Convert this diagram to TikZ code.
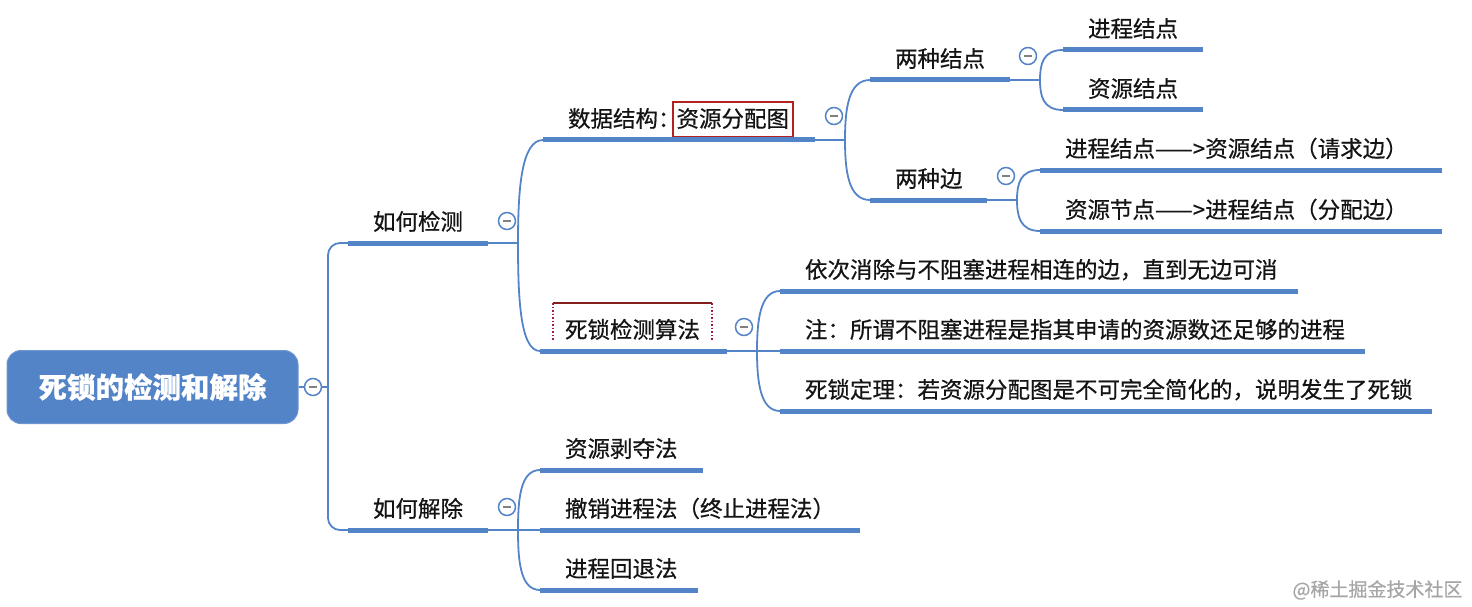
\documentclass[tikz,border=0pt]{standalone}
\usepackage{fontspec}
\setmainfont{Noto Sans CJK SC}[FakeBold=0.6]
\usetikzlibrary{positioning,calc}
\definecolor{mapblue}{RGB}{84,132,200}
\definecolor{boxred}{RGB}{178,34,34}
\definecolor{seldark}{RGB}{130,30,30}
\definecolor{selred}{RGB}{160,30,70}
\tikzset{topic/.style={anchor=south west, inner xsep=25pt, inner ysep=8pt, outer sep=0pt,
		text height=17pt, text depth=5pt, text width=#1, align=left,
		font=\fontsize{22.5}{27}\selectfont, text=black!92,
		append after command={\pgfextra{\let\topicnode\tikzlastnode}
			(\topicnode.south west) edge[draw=mapblue, line width=5pt] (\topicnode.south east)}}}
\tikzset{link/.style={draw=mapblue, line width=1.8pt}}
\tikzset{fold/.style={circle, draw=mapblue, line width=1.5pt, fill=white, minimum size=17pt, inner sep=0pt,
		path picture={\draw[gray, line width=1.8pt] ([xshift=-4pt]path picture bounding box.center) -- ([xshift=4pt]path picture bounding box.center);}}}
\tikzset{rootbox/.style={rounded corners=14pt, fill=mapblue, draw=mapblue!85!white, line width=1pt,
		minimum width=291pt, minimum height=73pt, text=white, font=\fontsize{28.5}{34}\selectfont\bfseries}}
\setlength{\fboxrule}{2pt}
\setlength{\fboxsep}{3pt}

\begin{document}
\begin{tikzpicture}[x=1pt, y=-1pt]
	\useasboundingbox (0,0) rectangle (1472,607);
	\node[rootbox] (root) at (152.5,387) {死锁的检测和解除};
	\coordinate (rootj) at (328,387);
	
	\node[topic=90] (det) at (348,243) {如何检测};
	\node[topic=90] (rel) at (348,530) {如何解除};
	
	\node[topic=222] (ds) at (543,140) {\mbox{数据结构：\kern-9pt\fcolorbox{boxred}{white}{\rule[-6pt]{0pt}{27pt}资源分配图}}};
	\node[topic=137] (alg) at (540,351) {死锁检测算法};
	
	\node[topic=90] (nodes2) at (870,80) {两种结点};
	\node[topic=67] (edges2) at (870,200) {两种边};
	\node[topic=90] (pn) at (1063,50) {进程结点};
	\node[topic=90] (rn) at (1063,110) {资源结点};
	\node[topic=352] (req) at (1040,170) {进程结点——>资源结点（请求边）};
	\node[topic=352] (asg) at (1040,231) {资源节点——>进程结点（分配边）};
	
	\node[topic=468] (a1) at (780,291) {依次消除与不阻塞进程相连的边，直到无边可消};
	\node[topic=535] (a2) at (780,351) {注：所谓不阻塞进程是指其申请的资源数还足够的进程};
	\node[topic=602] (a3) at (780,411) {死锁定理：若资源分配图是不可完全简化的，说明发生了死锁};
	
	\node[topic=113] (r1) at (540,470) {资源剥夺法};
	\node[topic=270] (r2) at (540,530) {撤销进程法（终止进程法）};
	\node[topic=108] (r3) at (540,590) {进程回退法};
	
	\coordinate (detj) at ([xshift=30pt]det.south east);
	\coordinate (relj) at ([xshift=30pt]rel.south east);
	\coordinate (dsj) at ([xshift=30pt]ds.south east);
	\coordinate (algj) at ([xshift=30pt]alg.south east);
	\coordinate (nodes2j) at ([xshift=30pt]nodes2.south east);
	\coordinate (edges2j) at ([xshift=30pt]edges2.south east);
	
	% root
	\draw[link] (root.east) -- (rootj);
	\draw[link, rounded corners=12pt] (det.south west) -| (rootj) |- (rel.south west);
	
	% how to detect
	\draw[link] (det.south east) -- (detj);
	\draw[link] (detj) .. controls +(0,-52) and +(-22,0) .. (ds.south west);
	\draw[link] (detj) .. controls +(0,54) and +(-20,0) .. (alg.south west);
	
	\draw[link] (ds.south east) -- (dsj);
	\draw[link] (dsj) .. controls +(0,-30) and +(-22,0) .. (nodes2.south west);
	\draw[link] (dsj) .. controls +(0,30) and +(-22,0) .. (edges2.south west);
	
	\draw[link] (nodes2.south east) -- (nodes2j);
	\draw[link] (nodes2j) .. controls +(0,-16) and +(-20,0) .. (pn.south west);
	\draw[link] (nodes2j) .. controls +(0,16) and +(-20,0) .. (rn.south west);
	
	\draw[link] (edges2.south east) -- (edges2j);
	\draw[link] (edges2j) .. controls +(0,-16) and +(-20,0) .. (req.south west);
	\draw[link] (edges2j) .. controls +(0,16) and +(-20,0) .. (asg.south west);
	
	\draw[link] (alg.south east) -- (algj);
	\draw[link] (algj) .. controls +(0,-30) and +(-20,0) .. (a1.south west);
	\draw[link] (algj) -- (a2.south west);
	\draw[link] (algj) .. controls +(0,30) and +(-20,0) .. (a3.south west);
	
	% how to remove
	\draw[link] (rel.south east) -- (relj);
	\draw[link] (relj) .. controls +(0,-30) and +(-20,0) .. (r1.south west);
	\draw[link] (relj) -- (r2.south west);
	\draw[link] (relj) .. controls +(0,30) and +(-20,0) .. (r3.south west);
	
	\node[fold] (f0) at (313,387) {};
	\node[fold] (fdet) at ([shift={(19,-22)}]det.south east) {};
	\node[fold] (frel) at ([shift={(19,-23)}]rel.south east) {};
	\node[fold] (fds) at ([shift={(19,-24)}]ds.south east) {};
	\node[fold] (falg) at ([shift={(17,-24)}]alg.south east) {};
	\node[fold] (fnodes2) at ([shift={(18,-24)}]nodes2.south east) {};
	\node[fold] (fedges2) at ([shift={(19,-24)}]edges2.south east) {};
	
	% selection frame
	\draw[seldark, line width=1.5pt] ([shift={(13,-48)}]alg.south west) -- ([shift={(-15,-48)}]alg.south east);
	\draw[selred, dotted, line width=1.5pt] ([shift={(13,-48)}]alg.south west) -- ([shift={(13,-10)}]alg.south west);
	\draw[selred, dotted, line width=1.5pt] ([shift={(-15,-48)}]alg.south east) -- ([shift={(-15,-10)}]alg.south east);
	
	\node[anchor=east, text=black!35, font=\fontsize{19}{22}\selectfont] (mark) at (1466,590) {@稀土掘金技术社区};
\end{tikzpicture}
\end{document}
